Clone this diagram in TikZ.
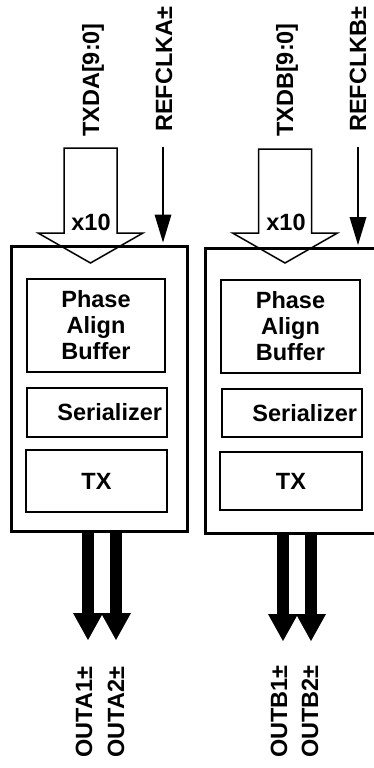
\documentclass[tikz,border=0pt]{standalone}
\usepackage{fontspec}
\setmainfont{Liberation Sans}
\usetikzlibrary{arrows.meta}

\tikzset{
  lbl/.style={font=\fontsize{23.5}{26}\selectfont\bfseries},
  chan/.style={draw, line width=3pt, minimum width=176pt, minimum height=285pt, inner sep=0pt},
  blk/.style={draw, lbl, line width=2.2pt, inner sep=0pt, align=center},
  sig/.style={lbl, rotate=90, anchor=base west, inner sep=0pt},
  bus/.style={draw, line width=1.5pt, fill=white, line join=miter},
  clk/.style={line width=2pt, shorten >=2pt, -{Triangle[width=17pt,length=28pt,line width=0pt]}},
  outp/.style={line width=12pt, -{Triangle[width=30pt,length=27pt,line width=0pt]}},
}

\begin{document}
\begin{tikzpicture}[x=1pt,y=-1pt]
\useasboundingbox (0,0) rectangle (373,768);

% wide input buses
\coordinate (busA) at (90.5,148);
\coordinate (busB) at (285,149);
\draw[bus] (busA) ++(-26.5,0) -- ++(53,0) -- ++(0,85) -- ++(26,0) -- ++(-52.5,30)
        -- ++(-52.5,-30) -- ++(26,0) -- cycle;
\draw[bus] (busB) ++(-26.5,0) -- ++(53,0) -- ++(0,84) -- ++(26,0) -- ++(-52.5,30)
        -- ++(-52.5,-30) -- ++(26,0) -- cycle;
\node[lbl, anchor=base] (x10A) at (91,230) {x10};
\node[lbl, anchor=base] (x10B) at (286,230) {x10};

% channel A
\node[chan] (chA) at (99,388.5) {};
\node[blk, minimum width=138pt, minimum height=93pt] (pabA) at (96,325.5) {Phase\\Align\\Buffer};
\node[blk, minimum width=140pt, minimum height=49pt, text width=130pt, align=right, inner xsep=5pt] (serA) at (97,412.5) {Serializer};
\node[blk, minimum width=141pt, minimum height=62pt] (txA) at (96.5,481) {TX};

% channel B
\node[chan] (chB) at (293,391) {};
\node[blk, minimum width=139pt, minimum height=93pt] (pabB) at (290.5,326.5) {Phase\\Align\\Buffer};
\node[blk, minimum width=140pt, minimum height=48pt, text width=130pt, align=right, inner xsep=5pt] (serB) at (292,413) {Serializer};
\node[blk, minimum width=142pt, minimum height=58pt] (txB) at (291,481) {TX};

% inputs
\node[sig] (txdA) at (99,137) {TXDA[9:0]};
\node[sig] (refA) at (172,132) {REFCLKA±};
\node[sig] (txdB) at (293,137) {TXDB[9:0]};
\node[sig] (refB) at (366,132) {REFCLKB±};
\coordinate (clkA) at (163,147);
\coordinate (clkB) at (358,147);
\draw[clk] (clkA) -- (clkA |- chA.north);
\draw[clk] (clkB) -- (clkB |- chB.north);

% outputs
\coordinate (oA1) at (88,640);
\coordinate (oA2) at (116,640);
\coordinate (oB1) at (283,641);
\coordinate (oB2) at (311,641);
\draw[outp] (oA1 |- chA.south) -- (oA1);
\draw[outp] (oA2 |- chA.south) -- (oA2);
\draw[outp] (oB1 |- chB.south) -- (oB1);
\draw[outp] (oB2 |- chB.south) -- (oB2);
\node[sig] (outA1) at (92,758) {OUTA1±};
\node[sig] (outA2) at (124,758) {OUTA2±};
\node[sig] (outB1) at (287,758) {OUTB1±};
\node[sig] (outB2) at (318,758) {OUTB2±};
\end{tikzpicture}
\end{document}
